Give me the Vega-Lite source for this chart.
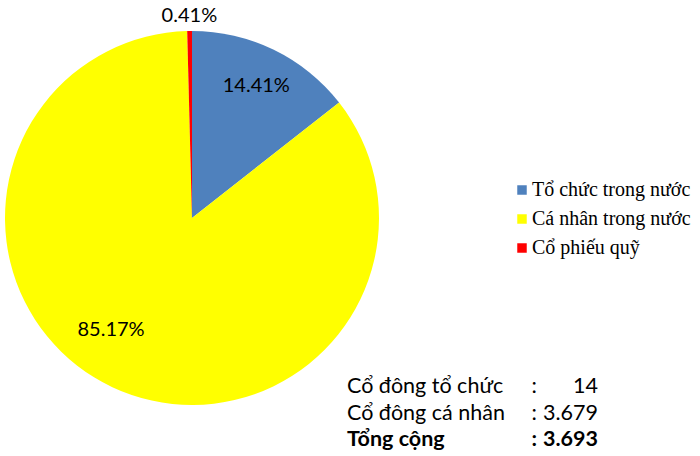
{
  "$schema": "https://vega.github.io/schema/vega-lite/v6.json",
  "width": 384,
  "height": 436,
  "padding": 0,
  "autosize": {"type": "pad"},
  "background": "white",
  "config": {"view": {"stroke": null}},
  "datasets": {
    "shares": [
      {"group": "Tổ chức trong nước", "pct": 14.41, "label": "14.41%", "rank": 1},
      {"group": "Cá nhân trong nước", "pct": 85.17, "label": "85.17%", "rank": 2},
      {"group": "Cổ phiếu quỹ", "pct": 0.41, "label": "0.41%", "rank": 3}
    ],
    "totals": [
      {"line": 1, "name": "Cổ đông tổ chức", "value": "14"},
      {"line": 2, "name": "Cổ đông cá nhân", "value": "3.679"},
      {"line": 3, "name": "Tổng cộng", "value": "3.693"}
    ]
  },
  "layer": [
    {
      "data": {"name": "shares"},
      "mark": {"type": "arc", "outerRadius": 187},
      "encoding": {
        "theta": {"field": "pct", "type": "quantitative", "stack": true},
        "order": {"field": "rank", "type": "quantitative"},
        "color": {
          "field": "group",
          "type": "nominal",
          "scale": {
            "domain": ["Tổ chức trong nước", "Cá nhân trong nước", "Cổ phiếu quỹ"],
            "range": ["#4F81BD", "#FFFF00", "#FF0000"]
          },
          "legend": {
            "title": null,
            "orient": "none",
            "legendX": 512,
            "legendY": 180,
            "padding": 0,
            "symbolType": "square",
            "symbolSize": 90,
            "symbolStrokeWidth": 0,
            "labelFont": "Liberation Serif",
            "labelFontSize": 20,
            "labelColor": "#000000",
            "labelOffset": 0,
            "rowPadding": 9,
            "labelLimit": 300
          }
        }
      }
    },
    {
      "data": {"name": "shares"},
      "mark": {"type": "text", "radius": 147, "font": "Lato", "fontSize": 20, "color": "#000000"},
      "encoding": {
        "theta": {"field": "pct", "type": "quantitative", "stack": true},
        "order": {"field": "rank", "type": "quantitative"},
        "text": {"condition": {"test": "datum.rank === 1", "field": "label"}, "value": ""}
      }
    },
    {
      "data": {"name": "shares"},
      "mark": {"type": "text", "radius": 138, "thetaOffset": 0.187, "font": "Lato", "fontSize": 20, "color": "#000000"},
      "encoding": {
        "theta": {"field": "pct", "type": "quantitative", "stack": true},
        "order": {"field": "rank", "type": "quantitative"},
        "text": {"condition": {"test": "datum.rank === 2", "field": "label"}, "value": ""}
      }
    },
    {
      "data": {"name": "shares"},
      "mark": {"type": "text", "radius": 202, "font": "Lato", "fontSize": 20, "color": "#000000"},
      "encoding": {
        "theta": {"field": "pct", "type": "quantitative", "stack": true},
        "order": {"field": "rank", "type": "quantitative"},
        "text": {"condition": {"test": "datum.rank === 3", "field": "label"}, "value": ""}
      }
    },
    {
      "data": {"name": "totals"},
      "transform": [{"filter": "datum.line < 3"}],
      "mark": {"type": "text", "align": "left", "baseline": "middle", "font": "Lato", "fontSize": 21.5, "color": "#000000"},
      "encoding": {
        "x": {"datum": 0, "type": "quantitative", "scale": {"domain": [0, 100], "range": [347, 598]}, "axis": null},
        "y": {"field": "line", "type": "quantitative", "scale": {"domain": [1, 3], "range": [387, 440]}, "axis": null},
        "text": {"field": "name"}
      }
    },
    {
      "data": {"name": "totals"},
      "transform": [{"filter": "datum.line < 3"}],
      "mark": {"type": "text", "align": "left", "baseline": "middle", "font": "Lato", "fontSize": 21.5, "color": "#000000"},
      "encoding": {
        "x": {"datum": 73.5, "type": "quantitative"},
        "y": {"field": "line", "type": "quantitative"},
        "text": {"value": ":"}
      }
    },
    {
      "data": {"name": "totals"},
      "transform": [{"filter": "datum.line < 3"}],
      "mark": {"type": "text", "align": "right", "baseline": "middle", "font": "Lato", "fontSize": 21.5, "color": "#000000"},
      "encoding": {
        "x": {"datum": 100, "type": "quantitative"},
        "y": {"field": "line", "type": "quantitative"},
        "text": {"field": "value"}
      }
    },
    {
      "data": {"name": "totals"},
      "transform": [{"filter": "datum.line === 3"}],
      "mark": {"type": "text", "align": "left", "baseline": "middle", "font": "Lato", "fontSize": 21.5, "fontWeight": "bold", "color": "#000000"},
      "encoding": {
        "x": {"datum": 0, "type": "quantitative"},
        "y": {"field": "line", "type": "quantitative"},
        "text": {"field": "name"}
      }
    },
    {
      "data": {"name": "totals"},
      "transform": [{"filter": "datum.line === 3"}],
      "mark": {"type": "text", "align": "left", "baseline": "middle", "font": "Lato", "fontSize": 21.5, "fontWeight": "bold", "color": "#000000"},
      "encoding": {
        "x": {"datum": 73.5, "type": "quantitative"},
        "y": {"field": "line", "type": "quantitative"},
        "text": {"value": ":"}
      }
    },
    {
      "data": {"name": "totals"},
      "transform": [{"filter": "datum.line === 3"}],
      "mark": {"type": "text", "align": "right", "baseline": "middle", "font": "Lato", "fontSize": 21.5, "fontWeight": "bold", "color": "#000000"},
      "encoding": {
        "x": {"datum": 100, "type": "quantitative"},
        "y": {"field": "line", "type": "quantitative"},
        "text": {"field": "value"}
      }
    }
  ]
}
